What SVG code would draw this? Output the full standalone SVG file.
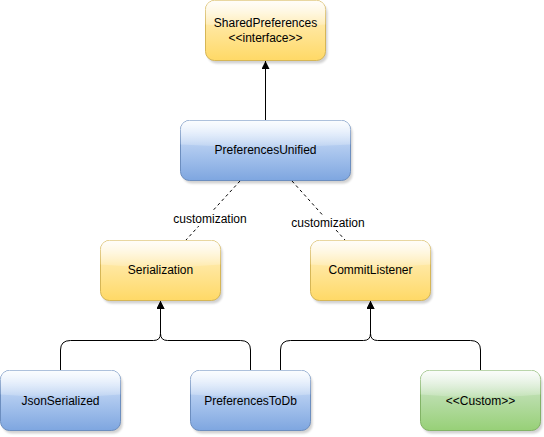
<svg xmlns="http://www.w3.org/2000/svg" width="544" height="437" viewBox="0 0 544 437">
  <defs>
    <linearGradient id="gYellow" x1="0" y1="0" x2="0" y2="1">
      <stop offset="0" stop-color="#fff2cc"/>
      <stop offset="1" stop-color="#ffd966"/>
    </linearGradient>
    <linearGradient id="gBlue" x1="0" y1="0" x2="0" y2="1">
      <stop offset="0" stop-color="#dae8fc"/>
      <stop offset="1" stop-color="#7ea6e0"/>
    </linearGradient>
    <linearGradient id="gGreen" x1="0" y1="0" x2="0" y2="1">
      <stop offset="0" stop-color="#d5e8d4"/>
      <stop offset="1" stop-color="#97d077"/>
    </linearGradient>
    <linearGradient id="gGlass" x1="0" y1="0" x2="0" y2="1">
      <stop offset="0" stop-color="#ffffff" stop-opacity="0.9"/>
      <stop offset="1" stop-color="#ffffff" stop-opacity="0.15"/>
    </linearGradient>
    <filter id="soft" x="-10%" y="-10%" width="130%" height="130%">
      <feGaussianBlur stdDeviation="1.2"/>
    </filter>
    <marker id="block" viewBox="0 0 10 10" refX="10" refY="5" markerWidth="8" markerHeight="8" markerUnits="userSpaceOnUse" orient="auto">
      <path d="M0,0 L10,5 L0,10 Z" fill="#000"/>
    </marker>
    <!-- shared node body: shadow, fill, glass highlight -->
    <rect id="box120" x="0" y="0" width="120" height="60" rx="9" ry="9"/>
    <path id="glass120" d="M9,0 H111 A9,9 0 0 1 120,9 V24 Q60,29 0,24 V9 A9,9 0 0 1 9,0 Z"/>
    <rect id="box170" x="0" y="0" width="170" height="60" rx="9" ry="9"/>
    <path id="glass170" d="M9,0 H161 A9,9 0 0 1 170,9 V24 Q85,29 0,24 V9 A9,9 0 0 1 9,0 Z"/>
  </defs>
  <style>
    .shadow { fill: #000; opacity: 0.18; filter: url(#soft); }
    .yellow { fill: url(#gYellow); stroke: #d6b656; stroke-width: 1; }
    .blue { fill: url(#gBlue); stroke: #6c8ebf; stroke-width: 1; }
    .green { fill: url(#gGreen); stroke: #82b366; stroke-width: 1; }
    .glass { fill: url(#gGlass); }
    .label { font-family: "Liberation Sans", Arial, Helvetica, sans-serif; font-size: 12px; fill: #000; text-anchor: middle; }
    .edge { fill: none; stroke: #000; stroke-width: 1; }
    .dashed { fill: none; stroke: #000; stroke-width: 1; stroke-dasharray: 3 3; }
    .elabel { font-family: "Liberation Sans", Arial, Helvetica, sans-serif; font-size: 12px; fill: #000; text-anchor: middle; }
  </style>

  <rect width="544" height="437" fill="#ffffff"/>

  <!-- connectors -->
  <g id="connectors">
    <!-- PreferencesUnified extends SharedPreferences -->
    <path class="edge" d="M265.5,120.5 V61" marker-end="url(#block)"/>
    <!-- customization dependencies -->
    <path class="dashed" d="M240,181 L186,240"/>
    <path class="dashed" d="M292,181 L345,240"/>
    <rect x="171" y="211" width="78" height="15" fill="#ffffff"/>
    <rect x="289" y="215" width="78" height="15" fill="#ffffff"/>
    <text class="elabel" x="210" y="223">customization</text>
    <text class="elabel" x="328" y="227">customization</text>
    <!-- Serialization implementations -->
    <path class="edge" d="M60.5,370 V350 Q60.5,340.5 70.5,340.5 H153.5 Q160.5,340.5 160.5,333.5 V301" marker-end="url(#block)"/>
    <path class="edge" d="M250.5,370 V350 Q250.5,340.5 240.5,340.5 H167.5 Q160.5,340.5 160.5,333.5 V301" marker-end="url(#block)"/>
    <!-- CommitListener implementations -->
    <path class="edge" d="M280.5,370 V350 Q280.5,340.5 290.5,340.5 H363.5 Q370.5,340.5 370.5,333.5 V301" marker-end="url(#block)"/>
    <path class="edge" d="M480.5,370 V350 Q480.5,340.5 470.5,340.5 H377.5 Q370.5,340.5 370.5,333.5 V301" marker-end="url(#block)"/>
  </g>

  <g id="sharedPreferences" transform="translate(205.5,0.5)">
    <use href="#box120" class="shadow" transform="translate(2,3)"/>
    <use href="#box120" class="yellow"/>
    <use href="#glass120" class="glass"/>
    <text class="label" x="60" y="26">SharedPreferences</text>
    <text class="label" x="60" y="41">&lt;&lt;interface&gt;&gt;</text>
  </g>

  <g id="preferencesUnified" transform="translate(180.5,120.5)">
    <use href="#box170" class="shadow" transform="translate(2,3)"/>
    <use href="#box170" class="blue"/>
    <use href="#glass170" class="glass"/>
    <text class="label" x="85" y="33">PreferencesUnified</text>
  </g>

  <g id="serialization" transform="translate(100.5,240.5)">
    <use href="#box120" class="shadow" transform="translate(2,3)"/>
    <use href="#box120" class="yellow"/>
    <use href="#glass120" class="glass"/>
    <text class="label" x="60" y="33">Serialization</text>
  </g>

  <g id="commitListener" transform="translate(310.5,240.5)">
    <use href="#box120" class="shadow" transform="translate(2,3)"/>
    <use href="#box120" class="yellow"/>
    <use href="#glass120" class="glass"/>
    <text class="label" x="60" y="33">CommitListener</text>
  </g>

  <g id="jsonSerialized" transform="translate(0.5,370.5)">
    <use href="#box120" class="shadow" transform="translate(2,3)"/>
    <use href="#box120" class="blue"/>
    <use href="#glass120" class="glass"/>
    <text class="label" x="60" y="34">JsonSerialized</text>
  </g>

  <g id="preferencesToDb" transform="translate(190.5,370.5)">
    <use href="#box120" class="shadow" transform="translate(2,3)"/>
    <use href="#box120" class="blue"/>
    <use href="#glass120" class="glass"/>
    <text class="label" x="60" y="34">PreferencesToDb</text>
  </g>

  <g id="custom" transform="translate(420.5,370.5)">
    <use href="#box120" class="shadow" transform="translate(2,3)"/>
    <use href="#box120" class="green"/>
    <use href="#glass120" class="glass"/>
    <text class="label" x="60" y="34">&lt;&lt;Custom&gt;&gt;</text>
  </g>
</svg>
